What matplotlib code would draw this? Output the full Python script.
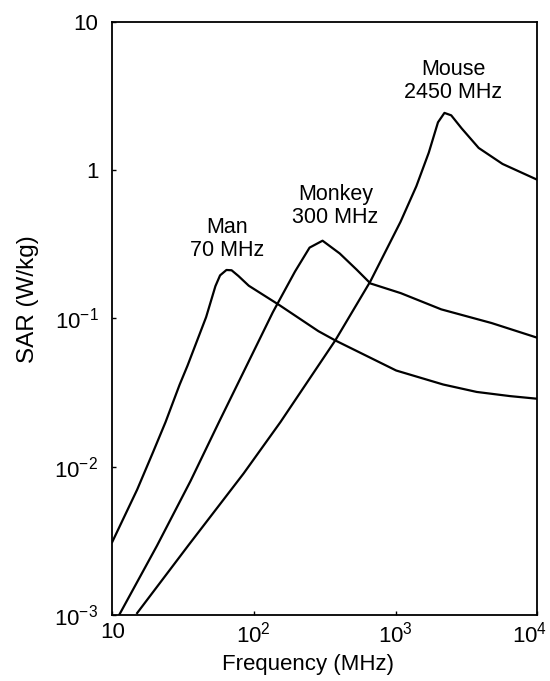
import matplotlib
matplotlib.use("Agg")
import matplotlib.pyplot as plt
from matplotlib.transforms import ScaledTranslation

plt.rcParams["font.family"] = ["Liberation Sans", "DejaVu Sans"]
plt.rcParams["mathtext.fontset"] = "custom"
plt.rcParams["mathtext.rm"] = "Liberation Sans"
plt.rcParams["mathtext.it"] = "Liberation Sans:italic"

# curves (frequency in MHz, SAR in W/kg)
man_f = [10, 15.0, 19.4, 23.8, 29.9, 34, 46, 53.5, 57.7, 64, 69.6, 77.8, 92,
         151, 285, 375, 1009, 2167, 3736, 6430, 10000]
man_sar = [0.0031, 0.0070, 0.0125, 0.020, 0.0357, 0.048, 0.102, 0.165, 0.195,
           0.212, 0.211, 0.193, 0.166, 0.123, 0.082, 0.071, 0.0445, 0.0358,
           0.0319, 0.0299, 0.0287]

monkey_f = [11.2, 20.7, 35.7, 56.7, 136, 195, 247, 305, 403, 531, 664, 1086,
            2099, 4753, 10000]
monkey_sar = [0.0010, 0.00293, 0.0080, 0.0200, 0.110, 0.207, 0.300, 0.334, 0.274,
              0.213, 0.172, 0.148, 0.115, 0.093, 0.074]

mouse_f = [15, 34.7, 84.6, 154, 289, 375, 664, 1083, 1400, 1713, 1990, 2210,
           2467, 2924, 3855, 5680, 10000]
mouse_sar = [0.00103, 0.00297, 0.0090, 0.020, 0.049, 0.071, 0.178, 0.448, 0.778,
             1.31, 2.10, 2.43, 2.34, 1.91, 1.41, 1.10, 0.86]

labels = ["Man\n70 MHz", "Monkey\n300 MHz", "Mouse\n2450 MHz"]
label_f = [65, 375, 2550]
label_sar = [0.343, 0.57, 4.0]

x_ticks = [10, 100, 1000, 10000]
x_ticklabels = ["10", r"$10^2$", r"$10^3$", r"$10^4$"]
y_ticks = [1e-3, 1e-2, 1e-1, 1, 10]
y_ticklabels = [r"$10^{-3}$", r"$10^{-2}$", r"$10^{-1}$", "1", "10"]

fig = plt.figure(figsize=(5.5, 6.81), dpi=100)
ax = fig.add_axes([0.204, 0.097, 0.773, 0.871])

for f, s in [(man_f, man_sar), (monkey_f, monkey_sar), (mouse_f, mouse_sar)]:
    ax.plot(f, s, color="black", lw=1.6, solid_joinstyle="round")

for txt, f, s in zip(labels, label_f, label_sar):
    ax.text(f, s, txt, ha="center", va="center", fontsize=15.5,
            linespacing=1.15, multialignment="center")

ax.set_xscale("log")
ax.set_yscale("log")
ax.set_xlim(10, 1e4)
ax.set_ylim(1e-3, 10)
ax.set_xticks(x_ticks, labels=x_ticklabels)
ax.set_yticks(y_ticks, labels=y_ticklabels)
ax.minorticks_off()
ax.tick_params(axis="both", direction="in", length=3, width=1, labelsize=16)
ax.tick_params(axis="y", pad=10)
ax.tick_params(axis="x", pad=5)
for sp in ax.spines.values():
    sp.set_linewidth(1.3)

# keep the 10^4 label inside the figure
last = ax.get_xticklabels()[-1]
last.set_transform(last.get_transform() + ScaledTranslation(-0.08, 0, fig.dpi_scale_trans))

ax.set_xlabel("Frequency (MHz)", fontsize=16)
ax.set_ylabel("SAR (W/kg)", fontsize=17.5)
ax.xaxis.set_label_coords(0.461, -0.066)
ax.yaxis.set_label_coords(-0.172, 0.533)

fig.savefig("out.png", dpi=100)
